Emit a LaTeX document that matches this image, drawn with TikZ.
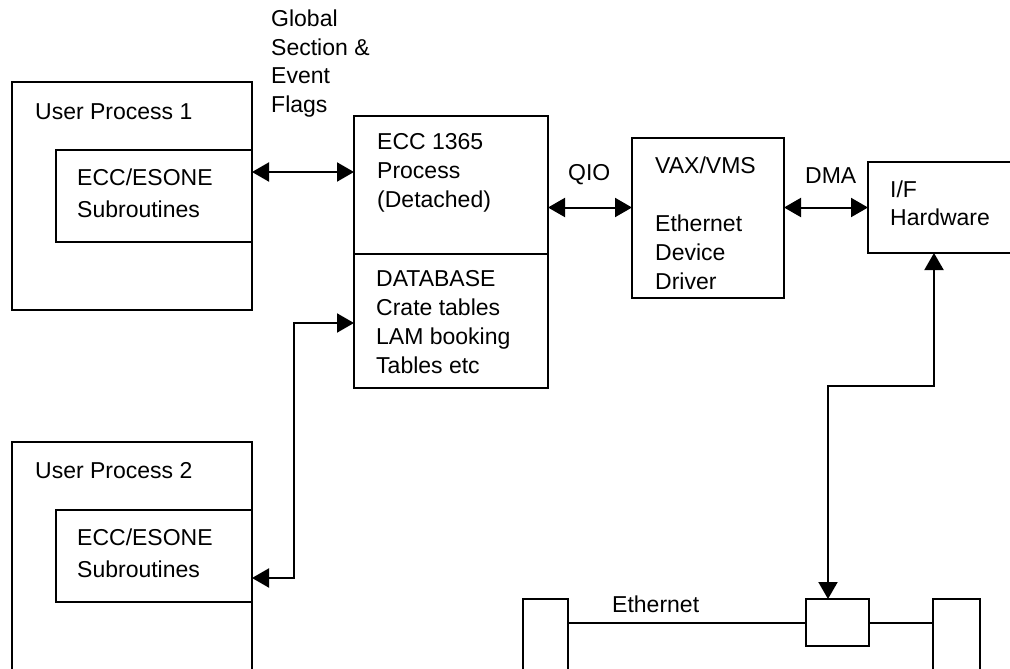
\documentclass[tikz,border=0pt]{standalone}
\usepackage{fontspec}
\setmainfont{Liberation Sans}
\usetikzlibrary{arrows.meta}
\tikzstyle{block}=[draw,line width=2pt,inner sep=0pt,outer sep=0pt,anchor=north west]
% base of a caption = baseline of its last line
\tikzstyle{caption}=[anchor=base west,inner sep=0pt,align=left,font=\fontsize{23}{29}\selectfont]
\tikzstyle{link}=[<->,line width=2pt]
\newcommand{\newBlock}[5]{\node[block,minimum width=#4pt,minimum height=#5pt](#1) at (#2,#3) {};}
\newcommand{\newCaption}[4]{\node[caption](#1) at (#2,#3) {#4};}

\begin{document}
\begin{tikzpicture}[x=1pt,y=-1pt,
    >={Triangle[length=17pt,width=19pt]},
    line join=miter
    ]
    \useasboundingbox (0,0) rectangle (1010,669);
    \clip (0,0) rectangle (1010,669);
    % boxes
    \newBlock{up1}{12}{82}{240}{228}
    \newBlock{sub1}{56}{150}{196}{92}
    \newBlock{up2}{12}{442}{240}{260}
    \newBlock{sub2}{56}{510}{196}{92}
    \newBlock{ecc}{354}{116}{194}{272}
    \newBlock{vax}{632}{138}{152}{160}
    \newBlock{iface}{868}{162}{150}{91}
    \newBlock{tap}{806}{599}{63}{47}
    \newBlock{postL}{523}{599}{45}{90}
    \newBlock{postR}{933}{599}{47}{90}
    % texts
    \newCaption{up1t}{35}{120}{User Process 1}
    \newCaption{sub1t}{77}{217}{ECC/ESONE\\[3pt]Subroutines}
    \newCaption{up2t}{35}{478}{User Process 2}
    \newCaption{sub2t}{77}{577}{ECC/ESONE\\[3pt]Subroutines}
    \newCaption{gst}{271}{113}{Global\\Section \&\\Event\\Flags}
    \newCaption{ecct}{377}{207}{ECC 1365\\Process\\(Detached)}
    \newCaption{dbt}{376}{373}{DATABASE\\Crate tables\\LAM booking\\Tables etc}
    \newCaption{qiot}{568}{180}{QIO}
    \newCaption{vaxt}{655}{289}{VAX/VMS\\[29pt]Ethernet\\Device\\Driver}
    \newCaption{dmat}{805}{183}{DMA}
    \newCaption{ifacet}{890}{225}{I/F\\[-1pt]Hardware}
    \newCaption{etht}{612}{612}{Ethernet}
    % helper points
    \coordinate (split) at (451,254);
    \coordinate (gsf) at (300,172);
    \coordinate (dbin) at (294,578);
    \coordinate (dbrun) at (294,323);
    \coordinate (bendA) at (934,386);
    \coordinate (bendB) at (828,386);
    % connectors
    \draw[line width=2pt] (ecc.west |- split) -- (ecc.east |- split);
    \draw[link] (sub1.east |- gsf) -- (ecc.west |- gsf);
    \draw[link] (ecc.east |- iface.west) -- (vax.west |- iface.west);
    \draw[link] (vax.east |- iface.west) -- (iface.west);
    \draw[link] (sub2.east |- dbin) -- (dbin) -- (dbrun) -- (ecc.west |- dbrun);
    \draw[link] (iface.south -| bendA) -- (bendA) -- (bendB) -- (tap.north -| bendB);
    \draw[line width=2pt] (postL.east |- tap.west) -- (tap.west);
    \draw[line width=2pt] (tap.east) -- (postR.west |- tap.east);
\end{tikzpicture}
\end{document}
